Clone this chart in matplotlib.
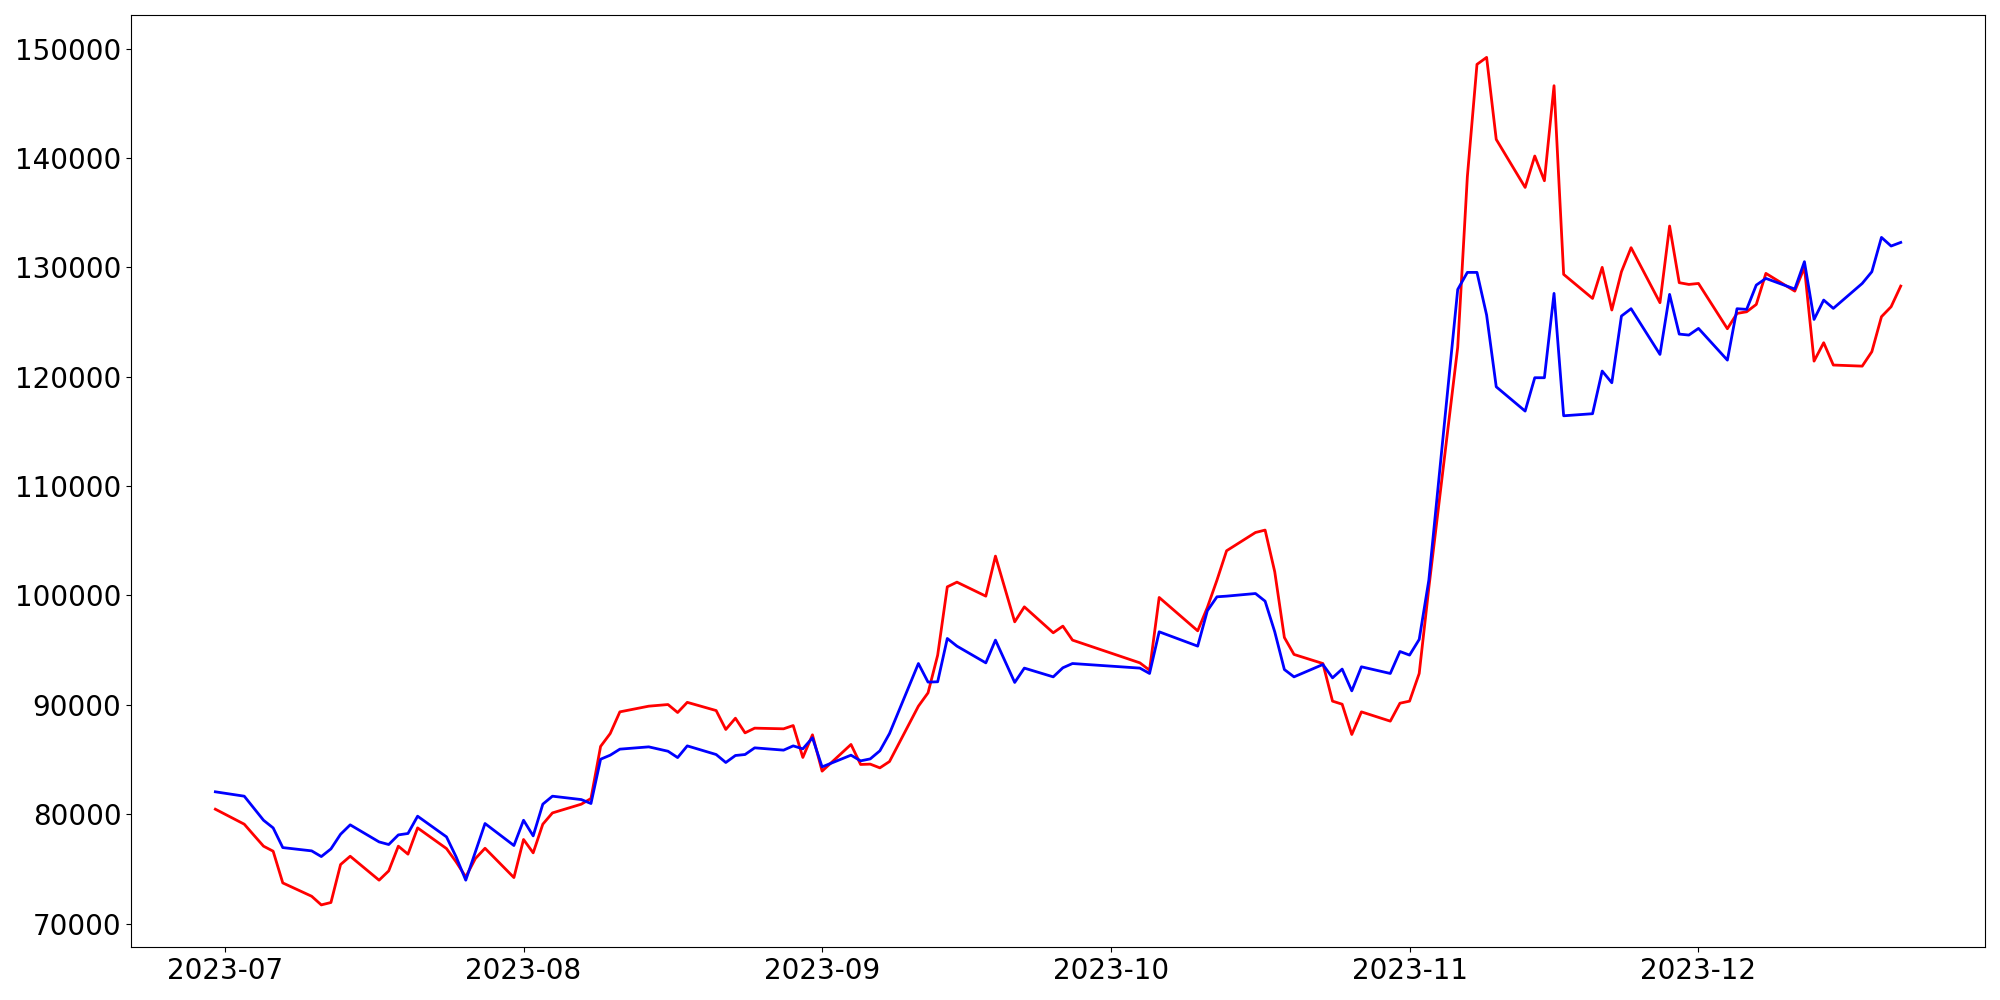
import pandas as pd
import matplotlib
matplotlib.use("Agg")
import matplotlib.pyplot as plt

# trading days (holidays / gaps left out)
dates = [
    "2023-06-30", "2023-07-03", "2023-07-04", "2023-07-05", "2023-07-06", "2023-07-07",
    "2023-07-10", "2023-07-11", "2023-07-12", "2023-07-13", "2023-07-14",
    "2023-07-17", "2023-07-18", "2023-07-19", "2023-07-20", "2023-07-21",
    "2023-07-24", "2023-07-25", "2023-07-26", "2023-07-27", "2023-07-28",
    "2023-07-31", "2023-08-01", "2023-08-02", "2023-08-03", "2023-08-04",
    "2023-08-07", "2023-08-08", "2023-08-09", "2023-08-10", "2023-08-11",
    "2023-08-14", "2023-08-16", "2023-08-17", "2023-08-18",
    "2023-08-21", "2023-08-22", "2023-08-23", "2023-08-24", "2023-08-25",
    "2023-08-28", "2023-08-29", "2023-08-30", "2023-08-31", "2023-09-01",
    "2023-09-04", "2023-09-05", "2023-09-06", "2023-09-07", "2023-09-08",
    "2023-09-11", "2023-09-12", "2023-09-13", "2023-09-14", "2023-09-15",
    "2023-09-18", "2023-09-19", "2023-09-21", "2023-09-22",
    "2023-09-25", "2023-09-26", "2023-09-27",
    "2023-10-04", "2023-10-05", "2023-10-06",
    "2023-10-10", "2023-10-11", "2023-10-12", "2023-10-13",
    "2023-10-16", "2023-10-17", "2023-10-18", "2023-10-19", "2023-10-20",
    "2023-10-23", "2023-10-24", "2023-10-25", "2023-10-26", "2023-10-27",
    "2023-10-30", "2023-10-31", "2023-11-01", "2023-11-02", "2023-11-03",
    "2023-11-06", "2023-11-07", "2023-11-08", "2023-11-09", "2023-11-10",
    "2023-11-13", "2023-11-14", "2023-11-15", "2023-11-16", "2023-11-17",
    "2023-11-20", "2023-11-21", "2023-11-22", "2023-11-23", "2023-11-24",
    "2023-11-27", "2023-11-28", "2023-11-29", "2023-11-30", "2023-12-01",
    "2023-12-04", "2023-12-05", "2023-12-06", "2023-12-07", "2023-12-08",
    "2023-12-11", "2023-12-12", "2023-12-13", "2023-12-14", "2023-12-15",
    "2023-12-18", "2023-12-19", "2023-12-20", "2023-12-21", "2023-12-22",
]

red_values = [
    80460, 79090, 78080, 77080, 76620, 73720,
    72500, 71710, 71930, 75400, 76160,
    73970, 74820, 77080, 76350, 78750,
    76860, 75640, 74270, 75950, 76890,
    74210, 77690, 76470, 79090, 80120,
    80920, 81440, 86200, 87380, 89360,
    89880, 90030, 89300, 90230,
    89480, 87750, 88780, 87440, 87870,
    87810, 88110, 85190, 87260, 83940,
    86380, 84550, 84580, 84240, 84820,
    89880, 91100, 94540, 100790, 101220,
    99940, 103600, 97590, 98960,
    96590, 97200, 95920,
    93840, 93170, 99820,
    96770, 98900, 101400, 104090,
    105760, 105980, 102170, 96160, 94610,
    93780, 90340, 90060, 87290, 89360,
    88510, 90150, 90340, 92870, 100700,
    122700, 138290, 148560, 149200, 141700,
    137310, 140180, 137920, 146610, 129360,
    127160, 130000, 126100, 129600, 131800,
    126770, 133780, 128600, 128440, 128530,
    124390, 125790, 125940, 126610, 129450,
    127830, 130000, 121430, 123110, 121070,
    120970, 122290, 125490, 126400, 128290,
]

blue_values = [
    82050, 81650, 80550, 79450, 78750, 76950,
    76650, 76130, 76830, 78170, 79030,
    77470, 77230, 78110, 78240, 79820,
    77930, 76100, 73970, 76560, 79150,
    77140, 79450, 78020, 80920, 81650,
    81340, 80980, 85030, 85400, 85950,
    86160, 85760, 85180, 86250,
    85460, 84730, 85370, 85460, 86070,
    85860, 86250, 85980, 86990, 84330,
    85400, 84880, 85060, 85800, 87380,
    93780, 92080, 92110, 96070, 95370,
    93840, 95920, 92050, 93360,
    92560, 93390, 93780,
    93360, 92870, 96680,
    95370, 98600, 99880, 99940,
    100180, 99480, 96680, 93230, 92560,
    93690, 92470, 93270, 91280, 93480,
    92870, 94880, 94550, 95980, 101400,
    127980, 129540, 129540, 125640, 119080,
    116860, 119910, 119910, 127620, 116430,
    116620, 120520, 119450, 125550, 126220,
    122040, 127530, 123900, 123810, 124420,
    121520, 126220, 126160, 128380, 128990,
    128020, 130520, 125240, 127010, 126250,
    128530, 129600, 132740, 131950, 132280,
]


def main():
    x = pd.to_datetime(dates)

    fig, ax = plt.subplots(figsize=(20, 10), dpi=100)
    ax.plot(x, red_values, color="red", linewidth=2)
    ax.plot(x, blue_values, color="blue", linewidth=2)

    ax.tick_params(axis="both", labelsize=20)
    plt.tight_layout()
    plt.savefig("out.png", dpi=100)


if __name__ == "__main__":
    main()
